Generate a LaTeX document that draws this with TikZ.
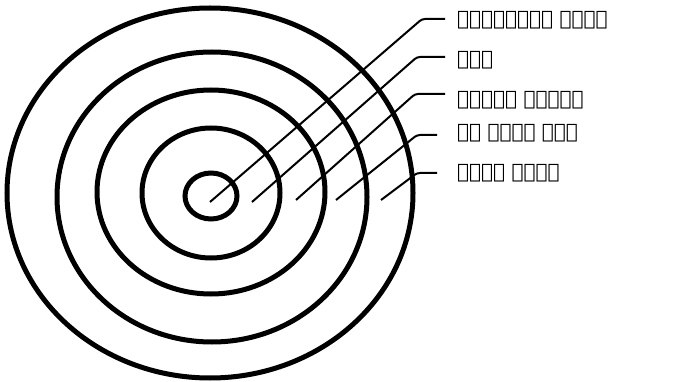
\documentclass[tikz,border=0pt]{standalone}
\usepackage{fontspec}
\newfontfamily\ethfont{DejaVu Sans}
\begin{document}
\begin{tikzpicture}[x=1pt,y=-1pt,
  ring/.style={line width=5pt},
  leader/.style={line width=2pt,rounded corners=3pt},
  lab/.style={anchor=west,inner sep=0pt,font=\ethfont\fontsize{20}{20}\selectfont}]
\useasboundingbox (0,0) rectangle (688,382);
\draw[ring] (210,193) ellipse [x radius=203pt, y radius=185pt];
\draw[ring] (212,197) ellipse [x radius=155pt, y radius=145pt];
\draw[ring] (211,192) ellipse [x radius=114pt, y radius=102pt];
\draw[ring] (211,193) ellipse [x radius=69pt, y radius=65pt];
\draw[ring] (211,196) ellipse [x radius=26pt, y radius=23pt];
\node[lab] (l1) at (457,20) {እግዚአብሔርን መፈለግ};
\node[lab] (l2) at (457,60) {ንስሐ};
\node[lab] (l3) at (457,100) {ማጽዳትና መገንባት};
\node[lab] (l4) at (457,133) {ቃል ኪዳንን ማደስ};
\node[lab] (l5) at (457,173) {አምልኮ መጀመር};
\coordinate (s1) at (210,202);
\coordinate (s2) at (252,202);
\coordinate (s3) at (296,200);
\coordinate (s4) at (336,200);
\coordinate (s5) at (381,200);
\draw[leader] (s1) -- (422,19) -- (445,19);
\draw[leader] (s2) -- (417,57) -- (445,57);
\draw[leader] (s3) -- (415,94) -- (445,94);
\draw[leader] (s4) -- (417,135) -- (437,135);
\draw[leader] (s5) -- (417,173) -- (437,173);
\end{tikzpicture}
\end{document}
